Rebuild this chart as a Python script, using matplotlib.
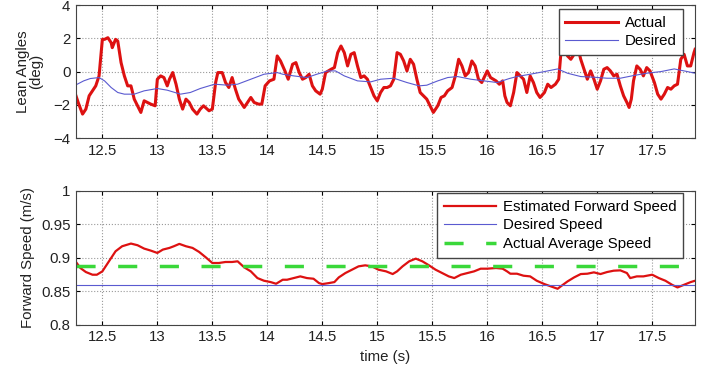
import matplotlib
matplotlib.use('Agg')
import matplotlib.pyplot as plt

plt.rcParams['font.family'] = ['Liberation Sans', 'DejaVu Sans']

# Lean angle data
t_lean = [12.26, 12.28, 12.32, 12.35, 12.38, 12.41, 12.44, 12.47, 12.50, 12.52, 12.55, 12.58, 12.59, 12.62,
          12.64, 12.67, 12.70, 12.73, 12.76, 12.79, 12.82, 12.85, 12.88, 12.91, 12.94, 12.98, 13.00, 13.03,
          13.06, 13.09, 13.11, 13.14, 13.17, 13.20, 13.23, 13.26, 13.29, 13.32, 13.36, 13.39, 13.42, 13.47,
          13.50, 13.53, 13.55, 13.59, 13.62, 13.65, 13.68, 13.71, 13.74, 13.79, 13.82, 13.85, 13.88, 13.92,
          13.95, 13.98, 14.02, 14.06, 14.09, 14.12, 14.16, 14.19, 14.23, 14.26, 14.29, 14.32, 14.35, 14.38,
          14.41, 14.44, 14.48, 14.50, 14.53, 14.58, 14.61, 14.64, 14.67, 14.70, 14.73, 14.76, 14.79, 14.82,
          14.85, 14.88, 14.91, 14.94, 14.97, 15.00, 15.03, 15.06, 15.09, 15.12, 15.15, 15.18, 15.21, 15.24,
          15.27, 15.30, 15.33, 15.36, 15.39, 15.42, 15.45, 15.48, 15.51, 15.55, 15.58, 15.61, 15.64, 15.68,
          15.71, 15.74, 15.77, 15.80, 15.83, 15.86, 15.89, 15.92, 15.95, 16.00, 16.03, 16.08, 16.11, 16.14,
          16.16, 16.18, 16.21, 16.24, 16.27, 16.30, 16.33, 16.36, 16.39, 16.42, 16.45, 16.48, 16.52, 16.55,
          16.58, 16.62, 16.65, 16.67, 16.70, 16.73, 16.76, 16.79, 16.82, 16.85, 16.88, 16.91, 16.94, 16.97,
          17.00, 17.03, 17.06, 17.09, 17.12, 17.15, 17.18, 17.21, 17.24, 17.27, 17.29, 17.31, 17.33, 17.36,
          17.39, 17.42, 17.45, 17.48, 17.52, 17.55, 17.58, 17.61, 17.64, 17.67, 17.70, 17.73, 17.76, 17.79,
          17.82, 17.85, 17.88, 17.89]
lean_actual = [-1.46, -1.86, -2.56, -2.26, -1.46, -1.16, -0.86, -0.26, 1.94, 1.94, 2.04, 1.74, 1.44, 1.94,
               1.84, 0.54, -0.26, -0.86, -0.86, -1.66, -2.06, -2.46, -1.76, -1.86, -1.96, -2.06, -0.46, -0.26,
               -0.36, -0.86, -0.46, -0.06, -0.76, -1.66, -2.26, -1.66, -1.86, -2.26, -2.56, -2.26, -2.06, -2.36,
               -2.26, -0.66, -0.06, -0.06, -0.66, -0.96, -0.36, -1.06, -1.66, -2.16, -1.86, -1.56, -1.86, -1.96,
               -1.96, -0.86, -0.56, -0.46, 0.94, 0.64, 0.04, -0.46, 0.44, 0.54, -0.06, -0.46, -0.36, -0.16,
               -0.86, -1.16, -1.36, -1.06, -0.06, 0.14, 0.24, 1.14, 1.54, 1.14, 0.34, 1.04, 1.14, 0.34,
               -0.36, -0.26, -0.46, -0.96, -1.46, -1.76, -1.26, -0.96, -0.96, -0.86, -0.46, 1.14, 1.04, 0.64,
               0.04, 0.74, 0.44, -0.46, -1.26, -1.46, -1.66, -2.06, -2.46, -2.06, -1.56, -1.46, -1.16, -0.96,
               -0.26, 0.74, 0.34, -0.26, -0.06, 0.64, 0.34, -0.46, -0.66, 0.04, -0.36, -0.56, -0.76, -0.56,
               -1.46, -1.86, -2.06, -1.26, -0.06, -0.26, -0.46, -1.26, -0.26, -0.66, -1.26, -1.56, -1.26, -0.76,
               -0.96, -0.76, -0.46, 1.14, 1.34, 0.94, 0.74, 1.04, 1.54, 0.74, 0.14, -0.46, 0.04, -0.46,
               -1.06, -0.56, 0.14, 0.24, 0.04, -0.26, -0.16, -0.86, -1.46, -1.86, -2.16, -1.66, -0.56, 0.34,
               0.14, -0.26, 0.24, 0.04, -0.66, -1.36, -1.66, -1.36, -0.96, -1.06, -0.86, -0.76, 0.74, 1.04,
               0.34, 0.34, 1.14, 1.34]

t_desired = [12.26, 12.33, 12.39, 12.47, 12.52, 12.58, 12.64, 12.70, 12.79, 12.88, 13.00, 13.09, 13.21, 13.30,
             13.39, 13.52, 13.64, 13.73, 13.85, 13.97, 14.09, 14.14, 14.24, 14.36, 14.45, 14.55, 14.62, 14.70,
             14.82, 14.94, 15.03, 15.15, 15.27, 15.38, 15.45, 15.55, 15.64, 15.73, 15.85, 15.97, 16.09, 16.20,
             16.27, 16.39, 16.52, 16.64, 16.73, 16.85, 16.97, 17.09, 17.21, 17.33, 17.45, 17.58, 17.70, 17.82,
             17.89]
lean_desired = [-0.80, -0.56, -0.42, -0.36, -0.56, -0.96, -1.26, -1.36, -1.36, -1.16, -1.02, -1.12, -1.36, -1.26,
                -1.02, -0.76, -0.82, -0.76, -0.46, -0.16, -0.06, -0.16, -0.26, -0.36, -0.16, 0.04, 0.04, -0.26,
                -0.56, -0.62, -0.46, -0.40, -0.66, -0.86, -0.82, -0.56, -0.36, -0.30, -0.46, -0.56, -0.66, -0.42,
                -0.30, -0.16, 0.00, 0.16, -0.10, -0.30, -0.34, -0.40, -0.40, -0.24, -0.10, 0.00, 0.16, 0.00,
                -0.10]

# Forward speed data
t_speed = [12.26, 12.30, 12.35, 12.41, 12.45, 12.50, 12.56, 12.62, 12.68, 12.76, 12.82, 12.88, 12.94, 13.00,
           13.05, 13.11, 13.15, 13.20, 13.26, 13.32, 13.38, 13.44, 13.50, 13.56, 13.62, 13.68, 13.73, 13.79,
           13.85, 13.91, 13.97, 14.03, 14.08, 14.14, 14.18, 14.24, 14.30, 14.36, 14.42, 14.47, 14.50, 14.56,
           14.61, 14.65, 14.71, 14.77, 14.83, 14.89, 14.95, 15.01, 15.08, 15.14, 15.18, 15.23, 15.29, 15.35,
           15.41, 15.47, 15.53, 15.59, 15.65, 15.70, 15.76, 15.82, 15.88, 15.94, 16.00, 16.08, 16.14, 16.18,
           16.21, 16.27, 16.33, 16.39, 16.45, 16.52, 16.58, 16.64, 16.68, 16.73, 16.79, 16.85, 16.91, 16.97,
           17.03, 17.09, 17.15, 17.21, 17.27, 17.30, 17.36, 17.42, 17.50, 17.56, 17.62, 17.68, 17.73, 17.79,
           17.85, 17.89]
speed_est = [0.894, 0.885, 0.879, 0.875, 0.875, 0.880, 0.895, 0.910, 0.9175, 0.9215, 0.919, 0.914, 0.911, 0.9075,
             0.9125, 0.915, 0.9175, 0.921, 0.9175, 0.915, 0.909, 0.901, 0.8925, 0.8925, 0.894, 0.894, 0.895, 0.886,
             0.880, 0.870, 0.866, 0.864, 0.8615, 0.8675, 0.8675, 0.870, 0.8725, 0.870, 0.869, 0.8625, 0.861, 0.8625,
             0.864, 0.871, 0.8775, 0.8825, 0.8875, 0.889, 0.8875, 0.8825, 0.880, 0.876, 0.880, 0.8875, 0.895, 0.899,
             0.895, 0.889, 0.8825, 0.8775, 0.8725, 0.870, 0.875, 0.8775, 0.880, 0.884, 0.884, 0.885, 0.884, 0.880,
             0.8765, 0.8765, 0.8735, 0.8725, 0.866, 0.861, 0.8575, 0.854, 0.859, 0.865, 0.871, 0.876, 0.8765, 0.8785,
             0.876, 0.879, 0.881, 0.8815, 0.8775, 0.870, 0.8725, 0.8725, 0.875, 0.870, 0.866, 0.860, 0.856, 0.860,
             0.864, 0.866]
desired_speed = 0.86
average_speed = 0.888

x_ticks = [12.5, 13, 13.5, 14, 14.5, 15, 15.5, 16, 16.5, 17, 17.5]
x_tick_labels = ['12.5', '13', '13.5', '14', '14.5', '15', '15.5', '16', '16.5', '17', '17.5']
lean_ticks = [-4, -2, 0, 2, 4]
speed_ticks = [0.8, 0.85, 0.9, 0.95, 1.0]
speed_tick_labels = ['0.8', '0.85', '0.9', '0.95', '1']

red = '#dd1111'
blue = '#5a5ad0'
green = '#3ad83a'
text_col = '#222222'

fig = plt.figure(figsize=(7.1, 3.68), dpi=100)
ax1 = fig.add_axes([0.107, 0.625, 0.872, 0.361])
ax2 = fig.add_axes([0.107, 0.117, 0.872, 0.364])

leg_kw = dict(loc='upper right', fontsize=10.8, fancybox=False, edgecolor='#444444',
              framealpha=1, handlelength=3.5, handletextpad=0.45, borderpad=0.45,
              labelspacing=0.3, borderaxespad=0)

# Top panel: lean angles
ax1.plot(t_lean, lean_actual, color=red, lw=2.2, label='Actual')
ax1.plot(t_desired, lean_desired, color=blue, lw=0.8, label='Desired')
ax1.set_ylim(-4, 4)
ax1.set_yticks(lean_ticks)
ax1.set_ylabel('Lean Angles\n(deg)', fontsize=10.8, color=text_col, linespacing=1.0, labelpad=7)
ax1.legend(bbox_to_anchor=(0.981, 0.97), **leg_kw)

# Bottom panel: forward speed
ax2.plot(t_speed, speed_est, color=red, lw=1.6, label='Estimated Forward Speed')
ax2.axhline(desired_speed, color=blue, lw=0.8, label='Desired Speed')
ax2.axhline(average_speed, color=green, lw=2.5, dashes=(5.5, 6.5), label='Actual Average Speed')
ax2.set_ylim(0.8, 1.0)
ax2.set_yticks(speed_ticks)
ax2.set_yticklabels(speed_tick_labels)
ax2.set_ylabel('Forward Speed (m/s)', fontsize=10.8, color=text_col)
ax2.set_xlabel('time (s)', fontsize=10.8, color=text_col, labelpad=4)
ax2.legend(bbox_to_anchor=(0.981, 0.985), **leg_kw)

for ax in (ax1, ax2):
    ax.set_xlim(12.26, 17.89)
    ax.set_xticks(x_ticks)
    ax.set_xticklabels(x_tick_labels)
    ax.grid(True, linestyle=':', color='#999999', lw=0.8)
    ax.tick_params(direction='in', top=True, right=True, labelsize=10.8, length=3,
                   labelcolor=text_col, pad=4)
    for s in ax.spines.values():
        s.set_color('#444444')

fig.savefig('out.png', dpi=100)
